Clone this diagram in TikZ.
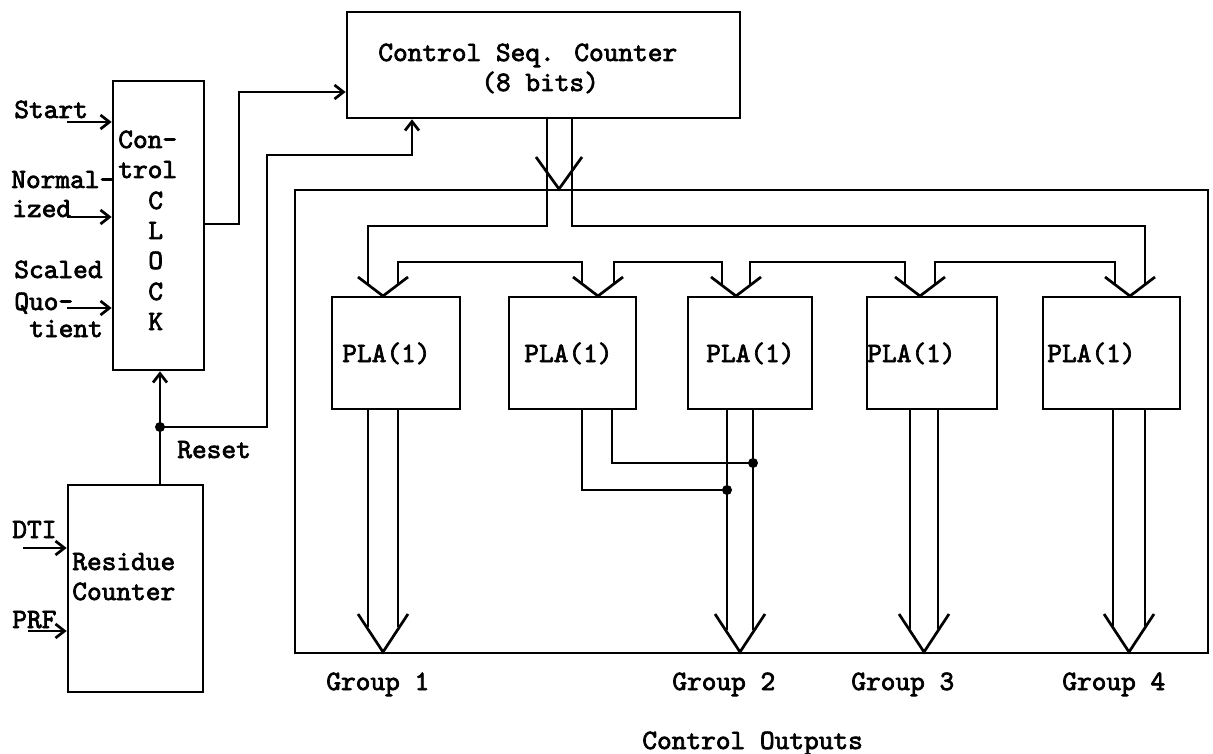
\documentclass[tikz,border=0pt]{standalone}
\usepackage{fontspec}
\usetikzlibrary{arrows.meta,calc}
\newfontfamily\tw{lmmono10-regular.otf}[FakeBold=2.5]
\begin{document}
\begin{tikzpicture}[x=1pt,y=-1pt,line width=2.7pt,
  box/.style={draw,rectangle,inner sep=0pt},
  txt/.style={font=\tw\fontsize{28}{30}\selectfont,inner sep=0pt,anchor=base west},
  arr/.style={-{Straight Barb[length=9pt,width=14pt]}},
  jdot/.style={circle,fill,inner sep=0pt,minimum size=10pt}]
\useasboundingbox (0,0) rectangle (1213,754);

% ---------- boxes ----------
\node[box,minimum width=91pt,minimum height=289pt] (clk) at (158.5,225.5) {};
\node[box,minimum width=393pt,minimum height=106pt] (csc) at (543.5,65) {};
\node[box,minimum width=135pt,minimum height=207pt] (res) at (135.5,588.5) {};
\node[box,minimum width=913pt,minimum height=463pt] (co) at (751.5,421.5) {};
\node[box,minimum width=128pt,minimum height=112pt] (p1) at (396,353) {};
\node[box,minimum width=127pt,minimum height=112pt] (p2) at (572.5,353) {};
\node[box,minimum width=124pt,minimum height=112pt] (p3) at (750,353) {};
\node[box,minimum width=130pt,minimum height=112pt] (p4) at (932,353) {};
\node[box,minimum width=137pt,minimum height=112pt] (p5) at (1111.5,353) {};

% ---------- texts ----------
\node[txt] (tcsc1) at (377,61) {Control Seq. Counter};
\node[txt] (tcsc2) at (480,91) {(8 bits)};
\node[txt] (tk1) at (117,148) {Con-};
\node[txt] (tk2) at (117,178) {trol};
\node[txt] (tk3) at (147,209) {C};
\node[txt] (tk4) at (147,239) {L};
\node[txt] (tk5) at (147,269) {O};
\node[txt] (tk6) at (147,300) {C};
\node[txt] (tk7) at (147,330) {K};
\node[txt] (tst) at (13,118) {Start};
\node[txt] (tno1) at (10,188) {Normal-};
\node[txt] (tno2) at (11,217) {ized};
\node[txt] (tsq1) at (13,278) {Scaled};
\node[txt] (tsq2) at (13,310) {Quo-};
\node[txt] (tsq3) at (28,337) {tient};
\node[txt] (tdti) at (11,538) {DTI};
\node[txt] (tprf) at (11,628) {PRF};
\node[txt] (tres1) at (71,570) {Residue};
\node[txt] (tres2) at (71,600) {Counter};
\node[txt] (trst) at (176,458) {Reset};
\node[txt] (tp1) at (341,362) {PLA(1)};
\node[txt] (tp2) at (523,362) {PLA(1)};
\node[txt] (tp3) at (705,362) {PLA(1)};
\node[txt] (tp4) at (866,362) {PLA(1)};
\node[txt] (tp5) at (1046,362) {PLA(1)};
\node[txt] (tg1) at (325,690) {Group 1};
\node[txt] (tg2) at (671,690) {Group 2};
\node[txt] (tg3) at (850,690) {Group 3};
\node[txt] (tg4) at (1061,690) {Group 4};
\node[txt] (tco) at (641,749) {Control Outputs};

% ---------- inputs to clock / residue ----------
\coordinate (iS) at (67,122);
\coordinate (iN) at (67,217);
\coordinate (iQ) at (67,308);
\coordinate (iD) at (23,548);
\coordinate (iP) at (28,631);
\draw[arr] (iS) -- (iS -| clk.west);
\draw[arr] (iN) -- (iN -| clk.west);
\draw[arr] (iQ) -- (iQ -| clk.west);
\draw[arr] (iD) -- (iD -| res.west);
\draw[arr] (iP) -- (iP -| res.west);

% ---------- clock to counter ----------
\coordinate (k1) at (239,224);
\coordinate (k2) at (239,92);
\draw[arr] (k1 -| clk.east) -- (k1) -- (k2) -- (k2 -| csc.west);

% ---------- reset ----------
\node[jdot] (rd) at (160,427) {};
\draw[arr] (rd |- res.north) -- (rd |- clk.south);
\coordinate (r1) at (267,427);
\coordinate (r2) at (267,155);
\coordinate (r3) at (412,155);
\draw[arr] (rd.center) -- (r1) -- (r2) -- (r3) -- (r3 |- csc.south);

% ---------- counter bus ----------
\coordinate (bl1) at (547,226); \coordinate (bl2) at (368,226); \coordinate (bl3) at (368,285);
\coordinate (br1) at (572,226); \coordinate (br2) at (1145,226); \coordinate (br3) at (1145,285);
\draw (bl1 |- csc.south) -- (bl1) -- (bl2) -- (bl3);
\draw (br1 |- csc.south) -- (br1) -- (br2) -- (br3);
\coordinate (bv) at (559,189);
\draw (bv) ++(-23,-32) -- (bv) -- ++(23,-32);

% ---------- bridges between PLA inputs ----------
\foreach \a/\b in {398/582,614/722,750/905,935/1115}{
  \draw (\a,285) -- (\a,262) -- (\b,262) -- (\b,285);
}
% input chevrons
\foreach \t/\n in {383/p1,598/p2,736/p3,920/p4,1130/p5}{
  \coordinate (v\n) at (\t,296);
  \draw ($(v\n)+(-25,-19)$) -- (v\n) -- ++(25,-19);
}

% ---------- outputs ----------
\foreach \l/\r/\n/\e in {368/398/p1/627,910/938/p4/629,1113/1145/p5/626}{
  \draw (\l,409) -- (\l,\e);
  \draw (\r,409) -- (\r,\e);
}
\draw (727,409) -- (727,630);
\draw (753,409) -- (753,630);
\foreach \t in {383,740,924,1129}{
  \draw (\t-25,614) -- (\t,652) -- (\t+25,614);
}
\node[jdot] (d1) at (727,490) {};
\node[jdot] (d2) at (753,463) {};
\coordinate (q1) at (582,490);
\coordinate (q2) at (612,463);
\draw (q1 |- p2.south) -- (q1) -- (d1.center);
\draw (q2 |- p2.south) -- (q2) -- (d2.center);
\end{tikzpicture}
\end{document}
